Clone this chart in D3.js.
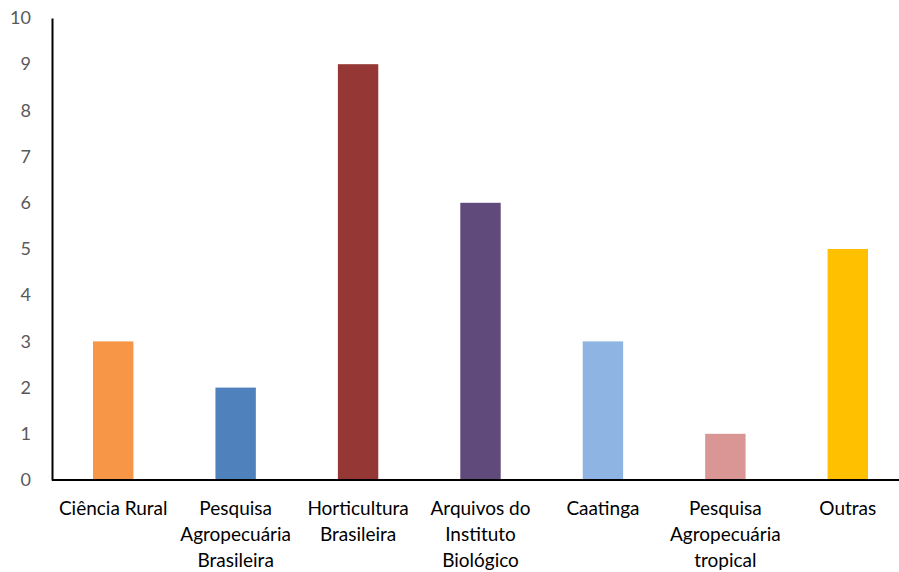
<!DOCTYPE html>
<html>
<head>
<meta charset="utf-8">
<script src="https://cdn.jsdelivr.net/npm/d3@7"></script>
<style>
  body { margin: 0; background: #fff; }
  text { font-family: Lato, "Open Sans", sans-serif; }
</style>
</head>
<body>
<script>
var categories = ['Ciência Rural', 'Pesquisa\nAgropecuária\nBrasileira', 'Horticultura\nBrasileira',
                  'Arquivos do\nInstituto\nBiológico', 'Caatinga', 'Pesquisa\nAgropecuária\ntropical', 'Outras'];
var values = [3, 2, 9, 6, 3, 1, 5];
var colors = ['#F79646', '#4F81BD', '#953735', '#604A7B', '#8EB4E3', '#D99694', '#FFC000'];
var yTicks = [0, 1, 2, 3, 4, 5, 6, 7, 8, 9, 10];

var screen = { width: 899, height: 572 };
var margins = { top: 18, left: 52, bottom: 92, right: -10 };

var svg = d3.select('body')
            .append('svg')
            .attr('width', screen.width)
            .attr('height', screen.height);

var xScale = d3.scaleBand()
               .domain(categories)
               .range([margins.left, screen.width - margins.right])
               .paddingInner(0.67)
               .paddingOuter(0.335);

var yScale = d3.scaleLinear()
               .domain([0, 10])
               .range([screen.height - margins.bottom, margins.top]);

// bars
svg.selectAll('rect.bar')
   .data(values)
   .enter()
   .append('rect')
   .classed('bar', true)
   .attr('x', function(d, i){ return xScale(categories[i]); })
   .attr('y', function(d){ return yScale(d); })
   .attr('width', xScale.bandwidth())
   .attr('height', function(d){ return yScale(0) - yScale(d); })
   .attr('fill', function(d, i){ return colors[i]; });

// y axis
var yAxis = d3.axisLeft(yScale).tickValues(yTicks).tickSize(0).tickPadding(21);
var yG = svg.append('g')
            .attr('transform', 'translate(' + margins.left + ',0)')
            .call(yAxis);
yG.select('.domain').attr('stroke', '#000').attr('stroke-width', 2);
yG.selectAll('text').attr('font-size', 18).attr('fill', '#595959')
  .attr('font-family', 'Lato, "Open Sans", sans-serif');

// x axis line
svg.append('line')
   .attr('x1', margins.left)
   .attr('x2', screen.width)
   .attr('y1', yScale(0))
   .attr('y2', yScale(0))
   .attr('stroke', '#000')
   .attr('stroke-width', 2);

// category labels
var labels = svg.selectAll('text.cat')
                .data(categories)
                .enter()
                .append('text')
                .classed('cat', true)
                .attr('text-anchor', 'middle')
                .attr('font-size', 19)
                .attr('fill', '#000')
                .attr('transform', function(d){
                  return 'translate(' + (xScale(d) + xScale.bandwidth() / 2) + ',' + (yScale(0) + 35) + ')';
                });
labels.selectAll('tspan')
      .data(function(d){ return d.split('\n'); })
      .enter()
      .append('tspan')
      .attr('x', 0)
      .attr('y', function(d, i){ return i * 26; })
      .text(function(d){ return d; });
</script>
</body>
</html>
